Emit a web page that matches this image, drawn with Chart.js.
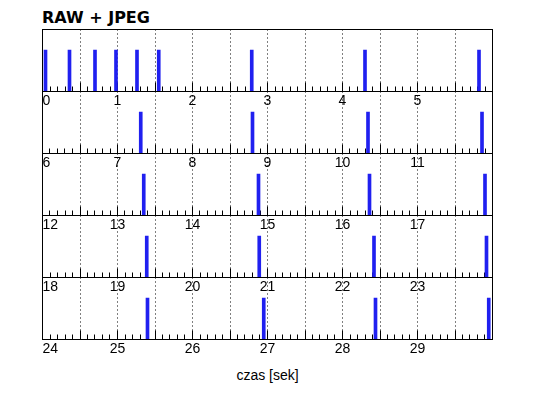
<!DOCTYPE html>
<html>
<head>
<meta charset="utf-8">
<script src="https://cdn.jsdelivr.net/npm/chart.js@4.4.0/dist/chart.umd.min.js"></script>
<style>
  html, body { margin: 0; padding: 0; background: #fff; }
  #wrap { position: relative; width: 538px; height: 398px; overflow: hidden; }
  #wrap canvas { position: absolute; left: 0; }
  .title { position: absolute; left: 42px; top: 10px; font: bold 16px/16px "DejaVu Sans"; color: #000; }
  .xlabel { position: absolute; left: 42px; width: 451px; top: 368px; text-align: center;
            font: 14px/14px "Liberation Sans"; color: #000; }
</style>
</head>
<body>
<div id="wrap">
  <div class="title">RAW + JPEG</div>
  <div class="xlabel">czas [sek]</div>
</div>
<script>
// event times in seconds
const eventTimes = [
  0.04, 0.36, 0.70, 0.98, 1.26, 1.55, 2.79, 4.30, 5.82,
  7.31, 8.80, 10.34, 11.86,
  13.35, 14.88, 16.36, 17.90,
  19.39, 20.89, 22.42, 23.92,
  25.40, 26.95, 28.44, 29.95
];
const eventHeights = [
  0.67, 0.67, 0.67, 0.67, 0.67, 0.67, 0.67, 0.67, 0.67,
  0.67, 0.67, 0.67, 0.67,
  0.67, 0.67, 0.67, 0.67,
  0.67, 0.67, 0.67, 0.67,
  0.67, 0.67, 0.67, 0.67
];
// each row shows 6 seconds
const panelStarts = [0, 6, 12, 18, 24];
const panelSpan = 6;

const panelTops = [29, 91, 153, 215, 277];
const panelHeight = 62;

/* draw the box round each panel */
const framePlugin = {
  id: 'frame',
  afterDraw(chart) {
    const a = chart.chartArea;
    const ctx = chart.ctx;
    ctx.save();
    ctx.strokeStyle = '#000';
    ctx.lineWidth = 1;
    ctx.strokeRect(a.left, a.top, a.right - a.left, a.bottom - a.top);
    ctx.restore();
  }
};

const wrap = document.getElementById('wrap');

panelStarts.forEach((start, p) => {
  const end = start + panelSpan;
  const points = [];
  for (let i = 0; i < eventTimes.length; i++) {
    if (eventTimes[i] >= start && eventTimes[i] < end) {
      points.push({ x: eventTimes[i], y: eventHeights[i] });
    }
  }

  const canvas = document.createElement('canvas');
  canvas.width = 538;
  canvas.height = panelHeight + 26;
  canvas.style.top = (panelTops[p] - 2) + 'px';
  wrap.appendChild(canvas);

  new Chart(canvas, {
    type: 'bar',
    data: {
      datasets: [{
        data: points,
        backgroundColor: 'rgb(32, 32, 240)',
        borderWidth: 0,
        barThickness: 3,
      }],
    },
    options: {
      responsive: false,
      animation: false,
      devicePixelRatio: 1,
      layout: { padding: { left: 42.5, right: 45.5, top: 2.5, bottom: 0 } },
      plugins: { legend: { display: false }, tooltip: { enabled: false } },
      scales: {
        x: {
          type: 'linear',
          position: 'bottom',
          weight: 1,
          offset: false,
          min: start,
          max: end,
          afterFit(scale) { scale.height = 23.5; },
          grid: { color: '#000', lineWidth: 1, tickLength: -9, drawOnChartArea: true, offset: false },
          border: { display: false, dash: [1, 3] },
          ticks: {
            stepSize: 0.5,
            autoSkip: false,
            maxRotation: 0,
            align: 'inner',
            padding: 10,
            color: '#000',
            font: { family: 'Liberation Sans', size: 14 },
            callback(v) {
              const r = Math.round(v);
              return (Math.abs(v - r) < 1e-6 && r < end) ? String(r) : '';
            },
          },
        },
        x2: {
          type: 'linear',
          position: 'bottom',
          weight: 0,
          offset: false,
          min: start,
          max: end,
          afterFit(scale) { scale.height = 0; },
          grid: { color: '#000', lineWidth: 1, tickLength: -5, drawOnChartArea: false, offset: false },
          border: { display: false },
          ticks: { display: false, stepSize: 0.1, autoSkip: false },
        },
        y: { display: false, min: 0, max: 1 },
      },
    },
    plugins: [framePlugin],
  });
});
</script>
</body>
</html>
